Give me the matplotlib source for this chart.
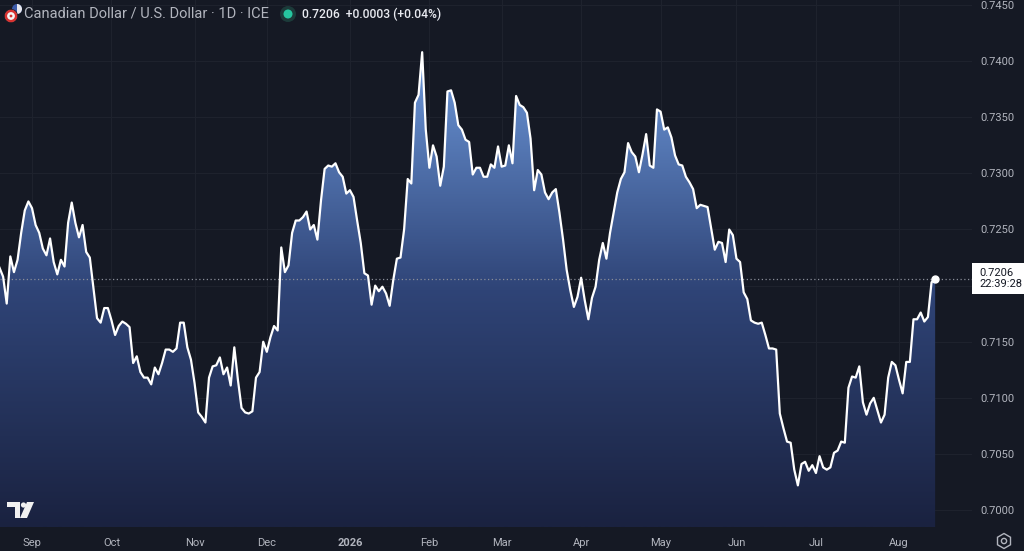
"""CAD/USD daily area chart, TradingView dark style."""
import numpy as np
import pandas as pd
import matplotlib
matplotlib.use("Agg")
import matplotlib.pyplot as plt
from matplotlib.patches import Polygon, Circle, RegularPolygon, Rectangle, Wedge
from matplotlib.colors import LinearSegmentedColormap

plt.rcParams['font.family'] = ['Roboto', 'DejaVu Sans']

# ---- data (daily close) ----
START = '2025-08-19'
close = [
    0.7216, 0.7208, 0.7184, 0.7226, 0.7212, 0.7223, 0.7247, 0.7267, 0.7275, 0.7269,
    0.7254, 0.7247, 0.7233, 0.7227, 0.7242, 0.7221, 0.7210, 0.7223, 0.7217, 0.7256,
    0.7274, 0.7256, 0.7243, 0.7254, 0.7230, 0.7225, 0.7198, 0.7171, 0.7167, 0.7180,
    0.7180, 0.7169, 0.7156, 0.7164, 0.7168, 0.7166, 0.7163, 0.7131, 0.7137, 0.7123,
    0.7118, 0.7118, 0.7112, 0.7127, 0.7121, 0.7131, 0.7143, 0.7143, 0.7141, 0.7144,
    0.7167, 0.7167, 0.7145, 0.7134, 0.7113, 0.7087, 0.7083, 0.7078, 0.7118, 0.7128,
    0.7129, 0.7136, 0.7121, 0.7127, 0.7111, 0.7145, 0.7116, 0.7091, 0.7087, 0.7086,
    0.7088, 0.7118, 0.7123, 0.7150, 0.7141, 0.7154, 0.7164, 0.7160, 0.7234, 0.7212,
    0.7218, 0.7247, 0.7258, 0.7258, 0.7261, 0.7266, 0.7250, 0.7254, 0.7241, 0.7276,
    0.7304, 0.7307, 0.7306, 0.7309, 0.7301, 0.7297, 0.7282, 0.7285, 0.7279, 0.7258,
    0.7238, 0.7211, 0.7209, 0.7183, 0.7200, 0.7195, 0.7199, 0.7193, 0.7182, 0.7205,
    0.7224, 0.7225, 0.7250, 0.7295, 0.7291, 0.7363, 0.7370, 0.7408, 0.7339, 0.7305,
    0.7325, 0.7315, 0.7289, 0.7306, 0.7373, 0.7374, 0.7363, 0.7343, 0.7339, 0.7330,
    0.7328, 0.7299, 0.7305, 0.7305, 0.7297, 0.7297, 0.7308, 0.7305, 0.7324, 0.7306,
    0.7307, 0.7325, 0.7309, 0.7369, 0.7361, 0.7359, 0.7354, 0.7331, 0.7285, 0.7303,
    0.7299, 0.7283, 0.7277, 0.7283, 0.7286, 0.7265, 0.7241, 0.7214, 0.7196, 0.7181,
    0.7190, 0.7207, 0.7187, 0.7170, 0.7189, 0.7199, 0.7223, 0.7238, 0.7224, 0.7247,
    0.7265, 0.7283, 0.7295, 0.7301, 0.7327, 0.7319, 0.7315, 0.7301, 0.7317, 0.7335,
    0.7307, 0.7305, 0.7357, 0.7355, 0.7339, 0.7341, 0.7332, 0.7316, 0.7308, 0.7307,
    0.7297, 0.7292, 0.7286, 0.7269, 0.7272, 0.7271, 0.7270, 0.7251, 0.7232, 0.7239,
    0.7238, 0.7221, 0.7250, 0.7245, 0.7224, 0.7221, 0.7194, 0.7188, 0.7169, 0.7167,
    0.7166, 0.7167, 0.7156, 0.7144, 0.7144, 0.7143, 0.7086, 0.7073, 0.7061, 0.7060,
    0.7036, 0.7022, 0.7041, 0.7043, 0.7035, 0.7040, 0.7033, 0.7048, 0.7038, 0.7036,
    0.7038, 0.7051, 0.7053, 0.7061, 0.7060, 0.7109, 0.7119, 0.7118, 0.7128, 0.7096,
    0.7085, 0.7095, 0.7100, 0.7089, 0.7078, 0.7085, 0.7118, 0.7132, 0.7129, 0.7116,
    0.7104, 0.7132, 0.7132, 0.7170, 0.7170, 0.7176, 0.7168, 0.7172, 0.7203, 0.7206,
]
# 0.7200 is hidden behind the last-price label, as in the reference
price_ticks = [0.7000, 0.7050, 0.7100, 0.7150, 0.7250, 0.7300, 0.7350, 0.7400, 0.7450]
title = 'Canadian Dollar / U.S. Dollar · 1D · ICE'
quote = '0.7206  +0.0003 (+0.04%)'
clock = '22:39:28'

BG = '#151924'
GRID = '#1e222d'
TXT = '#b2b5be'

dates = pd.bdate_range(START, periods=len(close))
idx = np.arange(len(close))
vals = np.array(close)

W, H = 1024, 551
fig = plt.figure(figsize=(W / 100, H / 100), dpi=100, facecolor=BG)
ax = fig.add_axes([0, 1 - 527 / H, 972 / W, 527 / H], facecolor=BG)

ylo, yhi = 0.69849, 0.74545
ax.set_ylim(ylo, yhi)
ax.set_xlim(0.14, 269.2)

# gradient area under the line
verts = np.column_stack([np.r_[idx[0], idx, idx[-1]], np.r_[ylo, vals, ylo]])
clip = Polygon(verts, closed=True, fc='none', ec='none')
ax.add_patch(clip)
cmap = LinearSegmentedColormap.from_list('area', ['#1a2240', '#2f4477', '#6d98da'])
grad = np.linspace(0, 1, 256).reshape(-1, 1)
im = ax.imshow(grad, extent=[idx[0], idx[-1], ylo, vals.max()], origin='lower',
               aspect='auto', cmap=cmap, zorder=1, interpolation='bilinear')
im.set_clip_path(clip)
ax.plot(idx, vals, color='white', lw=1.6, zorder=3, solid_joinstyle='round')

# last price
last = vals[-1]
ax.axhline(last, color='#8a8e99', lw=0.9, ls=(0, (1, 2)), zorder=2)
ax.plot(idx[-1], last, 'o', color='white', ms=5, zorder=4)

# month ticks at first bar of each month
month_pos, month_lab = [], []
for i, d in enumerate(dates):
    if i > 0 and d.month != dates[i - 1].month:
        month_pos.append(i)
        month_lab.append(str(d.year) if d.month == 1 else d.strftime('%b'))
ax.set_xticks(month_pos)
ax.set_xticklabels(month_lab)
for lab in ax.get_xticklabels():
    if lab.get_text().isdigit():
        lab.set_fontweight('bold')
        lab.set_color('#d1d4dc')

ax.set_yticks(price_ticks)
ax.set_yticklabels([f'{p:.4f}' for p in price_ticks])
ax.yaxis.tick_right()
ax.tick_params(axis='y', length=0, pad=6, labelsize=8, colors=TXT)
ax.tick_params(axis='x', length=0, pad=8, labelsize=8, colors=TXT)
ax.grid(True, color=GRID, lw=0.8, zorder=0)
ax.set_axisbelow(True)
ax.axhline(0.7200, color=GRID, lw=0.8, zorder=0)
for s in ax.spines.values():
    s.set_visible(False)

# overlay in pixel coordinates for the chrome
ov = fig.add_axes([0, 0, 1, 1], facecolor='none')
ov.set_xlim(0, W)
ov.set_ylim(H, 0)
ov.axis('off')

# last-price label on the scale, tied to the price
py = ov.transData.inverted().transform(ax.transData.transform((0, last)))[1]
ov.add_patch(Rectangle((972, py - 15.5), 52, 31, fc='white', ec='none'))
ov.text(979, py, f'{last:.4f}\n{clock}', fontsize=8, color='#131722',
        ha='left', va='center', linespacing=1.15)

# header
ov.text(24, 14, title, fontsize=10.5, color=TXT, va='center', ha='left')
ov.add_patch(Circle((288, 14), 8, fc='#1c3b3a', ec='none'))
ov.add_patch(Circle((288, 14), 4.5, fc='#26c6a0', ec='none'))
ov.text(302, 14, quote, fontsize=8.7, color='#e8eaf0', va='center', ha='left',
        fontweight='medium')

# flag icons (USD behind, CAD in front)
ov.add_patch(Circle((17, 9), 5, fc='#3c5aa8', ec='none'))
ov.add_patch(Wedge((17, 9), 5, -90, 90, fc='#e8e8ee', ec='none'))
ov.add_patch(Circle((11, 16), 6.5, fc='#f4f4f4', ec=BG, lw=0.8))
ov.add_patch(Wedge((11, 16), 6.3, 90, 270, width=2.4, fc='#d8312f', ec='none'))
ov.add_patch(Wedge((11, 16), 6.3, -90, 90, width=2.4, fc='#d8312f', ec='none'))
ov.add_patch(Circle((11, 16), 1.4, fc='#d8312f', ec='none'))

# TradingView logo
ov.add_patch(Polygon([(7, 502), (20, 502), (20, 518), (15, 518), (15, 507), (7, 507)],
                     closed=True, fc='#f0f0f0', ec='none'))
ov.add_patch(Polygon([(27, 502), (34, 502), (27, 518), (20, 518)], closed=True,
                     fc='#f0f0f0', ec='none'))
ov.add_patch(Circle((23.5, 505), 2.6, fc='#f0f0f0', ec='none'))

# settings gear
ov.add_patch(RegularPolygon((1004, 541), 6, radius=7.5, fc='none', ec=TXT, lw=1.0))
ov.add_patch(Circle((1004, 541), 2.6, fc='none', ec=TXT, lw=1.0))

fig.savefig('out.png', dpi=100, facecolor=BG)
